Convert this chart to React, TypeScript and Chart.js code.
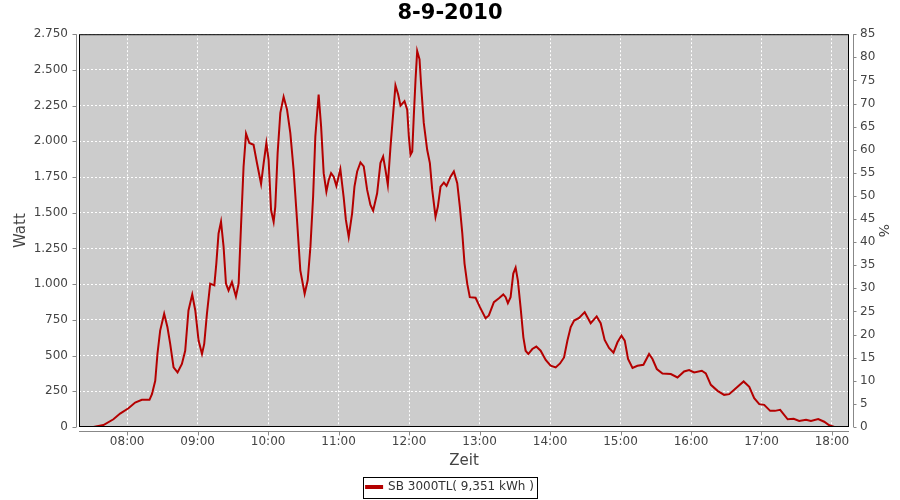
import React, { useEffect, useRef } from "react";
import { Chart, registerables } from "chart.js";

Chart.register(...registerables);

const chartTitle = "8-9-2010";
const seriesLabel = "SB 3000TL( 9,351 kWh )";
const leftAxisTitle = "Watt";
const rightAxisTitle = "%";
const xAxisTitle = "Zeit";

// Tick labels of the time axis
const hourLabels = ["08:00", "09:00", "10:00", "11:00", "12:00", "13:00", "14:00", "15:00", "16:00", "17:00", "18:00"];

// Axis ranges
const timeRangeMinutes = [439, 1094.5];
const wattRange = [0, 2750];
const wattStep = 250;
const percentRange = [0, 85];
const percentStep = 5;

// Time of each reading, minutes after midnight
const timeMinutes = [
  451.3, 459.8, 468.3, 474.0, 481.1, 486.8, 492.5, 499.0, 501.1, 503.9,
  505.8, 508.1, 511.5, 514.3, 516.6, 519.5, 522.9, 526.6, 529.4, 532.2,
  535.4, 538.0, 540.8, 543.7, 545.6, 547.9, 550.7, 554.2, 555.9, 557.8,
  559.9, 562.1, 564.1, 566.3, 569.2, 572.6, 574.9, 576.9, 579.1, 581.2,
  584.0, 587.6, 590.5, 594.0, 596.2, 598.5, 600.4, 602.5, 604.7, 606.1,
  608.1, 610.4, 613.2, 616.1, 618.9, 621.7, 624.6, 627.4, 631.1, 633.7,
  636.0, 638.3, 640.2, 643.0, 645.1, 647.3, 649.6, 651.6, 653.6, 655.8,
  658.1, 661.5, 664.3, 666.2, 668.6, 671.5, 673.5, 675.8, 678.6, 681.4,
  684.3, 687.1, 689.4, 692.8, 695.6, 697.9, 699.9, 701.9, 704.2, 706.5,
  708.4, 710.7, 712.7, 716.1, 718.4, 719.8, 721.2, 722.7, 724.0, 725.5,
  726.9, 728.9, 730.3, 732.5, 735.4, 737.7, 739.7, 742.5, 744.5, 746.8,
  749.6, 751.9, 755.3, 758.1, 761.0, 763.2, 765.3, 767.2, 769.5, 771.7,
  776.6, 780.3, 785.1, 787.9, 792.2, 796.5, 800.2, 802.2, 804.1, 806.4,
  808.7, 810.7, 812.6, 814.9, 817.3, 819.2, 821.5, 824.9, 828.3, 832.0,
  836.3, 840.5, 844.8, 848.5, 851.9, 854.8, 857.6, 860.5, 864.7, 869.5,
  874.6, 879.7, 883.1, 886.5, 890.2, 894.0, 897.4, 900.8, 903.6, 906.4,
  910.2, 914.4, 919.5, 924.3, 927.2, 930.9, 935.7, 942.8, 948.5, 954.1,
  958.4, 962.7, 969.2, 972.6, 976.9, 982.6, 988.2, 992.5, 998.2, 1004.8,
  1009.6, 1013.8, 1018.1, 1022.3, 1027.4, 1031.4, 1035.9, 1042.3, 1047.4, 1052.1,
  1057.9, 1062.1, 1068.3, 1073.4, 1077.7, 1082.0,
];

// Power of each reading, watt
const wattValues = [
  0, 14, 54, 94, 131, 171, 190, 190, 230, 323,
  513, 675, 792, 698, 584, 417, 382, 441, 534, 816,
  928, 816, 605, 511, 582, 792, 1004, 992, 1144, 1355,
  1437, 1261, 1004, 956, 1015, 914, 1004, 1402, 1824, 2054,
  1988, 1976, 1848, 1702, 1848, 1988, 1871, 1519, 1437, 1543,
  1918, 2199, 2312, 2222, 2058, 1800, 1449, 1097, 933, 1027,
  1261, 1613, 2035, 2328, 2105, 1777, 1648, 1730, 1777, 1753,
  1688, 1805, 1610, 1450, 1331, 1496, 1683, 1789, 1852, 1824,
  1660, 1554, 1514, 1636, 1848, 1894, 1800, 1695, 1965, 2199,
  2391, 2328, 2250, 2281, 2222, 2035, 1906, 1929, 2175, 2433,
  2632, 2574, 2386, 2129, 1941, 1848, 1660, 1472, 1543, 1683,
  1711, 1688, 1753, 1789, 1707, 1543, 1355, 1144, 1004, 909,
  905, 839, 762, 781, 874, 902, 928, 909, 867, 909,
  1074, 1116, 1027, 839, 628, 534, 511, 546, 563, 534,
  469, 429, 417, 445, 487, 605, 700, 745, 764, 804,
  727, 774, 727, 610, 553, 520, 593, 640, 605, 476,
  413, 429, 436, 511, 476, 406, 375, 371, 347, 389,
  399, 382, 394, 375, 295, 253, 225, 230, 272, 319,
  281, 202, 160, 155, 113, 113, 120, 54, 58, 42,
  51, 42, 56, 37, 12, 0,
];

const toMinutes = (label: string) => {
  const [h, m] = label.split(":").map(Number);
  return h * 60 + m;
};
const fmtTime = (v: number) => {
  const h = Math.floor(v / 60);
  const m = Math.round(v - h * 60);
  return String(h).padStart(2, "0") + ":" + String(m).padStart(2, "0");
};
const fmtThousands = (v: number) =>
  String(Math.round(v)).replace(/\B(?=(\d{3})+(?!\d))/g, ".");

const FONT = "'DejaVu Sans', sans-serif";
const LINE_COLOR = "#b40000";

const framePlugin = {
  id: "frame",
  beforeDraw(chart: any) {
    const { ctx, chartArea: a } = chart;
    ctx.save();
    ctx.fillStyle = "#cccccc";
    ctx.fillRect(a.left, a.top, a.right - a.left, a.bottom - a.top);
    ctx.restore();
  },
  afterDraw(chart: any) {
    const { ctx, chartArea: a, scales } = chart;
    ctx.save();
    // plot outline
    ctx.strokeStyle = "#000";
    ctx.lineWidth = 1;
    ctx.strokeRect(a.left + 0.5, a.top + 0.5, a.right - a.left - 1, a.bottom - a.top - 1);
    // offset axis lines and tick marks
    ctx.strokeStyle = "#888";
    ctx.beginPath();
    const lx = Math.round(a.left - 3) + 0.5;
    ctx.moveTo(lx, a.top);
    ctx.lineTo(lx, a.bottom);
    scales.y.ticks.forEach((t: any) => {
      const py = Math.round(scales.y.getPixelForValue(t.value)) + 0.5;
      ctx.moveTo(lx - 4, py);
      ctx.lineTo(lx, py);
    });
    const rx = Math.round(a.right + 4) + 0.5;
    ctx.moveTo(rx, a.top);
    ctx.lineTo(rx, a.bottom);
    scales.y1.ticks.forEach((t: any) => {
      const py = Math.round(scales.y1.getPixelForValue(t.value)) + 0.5;
      ctx.moveTo(rx, py);
      ctx.lineTo(rx + 3, py);
    });
    const by = Math.round(a.bottom + 4) + 0.5;
    ctx.moveTo(a.left, by);
    ctx.lineTo(a.right, by);
    scales.x.ticks.forEach((t: any) => {
      const px = Math.round(scales.x.getPixelForValue(t.value)) + 0.5;
      ctx.moveTo(px, by);
      ctx.lineTo(px, by + 4);
    });
    ctx.stroke();
    // legend frame
    const lg = chart.legend;
    if (lg && lg.legendHitBoxes && lg.legendHitBoxes.length) {
      const hb = lg.legendHitBoxes[0];
      ctx.strokeStyle = "#000";
      ctx.strokeRect(Math.round(hb.left - 3) + 0.5, Math.round(hb.top - 4) + 0.5, Math.round(hb.width + 6), Math.round(hb.height + 9));
    }
    ctx.restore();
  },
};

export default function App() {
  const canvasRef = useRef<HTMLCanvasElement | null>(null);

  useEffect(() => {
    if (!canvasRef.current) return;
    const chart = new Chart(canvasRef.current, {
      type: "line",
      data: {
        datasets: [
          {
            label: seriesLabel,
            data: timeMinutes.map((t, i) => ({ x: t, y: wattValues[i] })),
            borderColor: LINE_COLOR,
            backgroundColor: LINE_COLOR,
            borderWidth: 2,
            pointRadius: 0,
            tension: 0,
            yAxisID: "y",
          },
        ],
      },
      plugins: [framePlugin],
      options: {
        responsive: false,
        animation: false,
        layout: { padding: 0 },
        plugins: {
          title: {
            display: true,
            text: chartTitle,
            color: "#000",
            font: { family: FONT, size: 21, weight: "bold", lineHeight: 1.2 },
            padding: { top: 1, bottom: 8 },
          },
          legend: {
            position: "bottom",
            maxHeight: 20,
            labels: {
              color: "#333",
              font: { family: FONT, size: 12 },
              boxWidth: 16,
              boxHeight: 2,
              padding: 1,
            },
          },
          tooltip: { enabled: false },
        },
        scales: {
          x: {
            type: "linear",
            min: timeRangeMinutes[0],
            max: timeRangeMinutes[1],
            afterBuildTicks: (scale: any) => {
              scale.ticks = hourLabels.map((l) => ({ value: toMinutes(l) }));
            },
            afterFit: (scale: any) => {
              scale.height = 53;
            },
            ticks: {
              autoSkip: false,
              maxRotation: 0,
              color: "#444",
              font: { family: FONT, size: 12 },
              padding: 8,
              callback: (v: any) => fmtTime(Number(v)),
            },
            grid: { color: "#ffffff", lineWidth: 1, drawTicks: false },
            border: { display: false, dash: [2, 2] },
            title: {
              display: true,
              text: xAxisTitle,
              color: "#444",
              font: { family: FONT, size: 15 },
              padding: { top: 0, bottom: 10 },
            },
          },
          y: {
            type: "linear",
            position: "left",
            min: wattRange[0],
            max: wattRange[1],
            afterFit: (scale: any) => {
              scale.width = 79;
            },
            ticks: {
              stepSize: wattStep,
              color: "#444",
              font: { family: FONT, size: 12 },
              padding: 11,
              callback: (v: any) => fmtThousands(Number(v)),
            },
            grid: { color: "#ffffff", lineWidth: 1, drawTicks: false },
            border: { display: false, dash: [2, 2] },
            title: {
              display: true,
              text: leftAxisTitle,
              color: "#444",
              font: { family: FONT, size: 15 },
              padding: { top: 12, bottom: 0 },
            },
          },
          y1: {
            type: "linear",
            position: "right",
            min: percentRange[0],
            max: percentRange[1],
            afterFit: (scale: any) => {
              scale.width = 51;
            },
            ticks: {
              stepSize: percentStep,
              color: "#444",
              font: { family: FONT, size: 12 },
              padding: 11,
            },
            grid: { drawOnChartArea: false, drawTicks: false },
            border: { display: false },
            title: {
              display: true,
              text: rightAxisTitle,
              color: "#444",
              font: { family: FONT, size: 14 },
              padding: { top: 9, bottom: 0 },
            },
          },
        },
      },
    } as any);
    return () => chart.destroy();
  }, []);

  return (
    <div style={{ position: "absolute", left: 0, top: 0, width: 900, height: 500, background: "#fff" }}>
      <canvas ref={canvasRef} width={900} height={500} style={{ display: "block" }} />
    </div>
  );
}
